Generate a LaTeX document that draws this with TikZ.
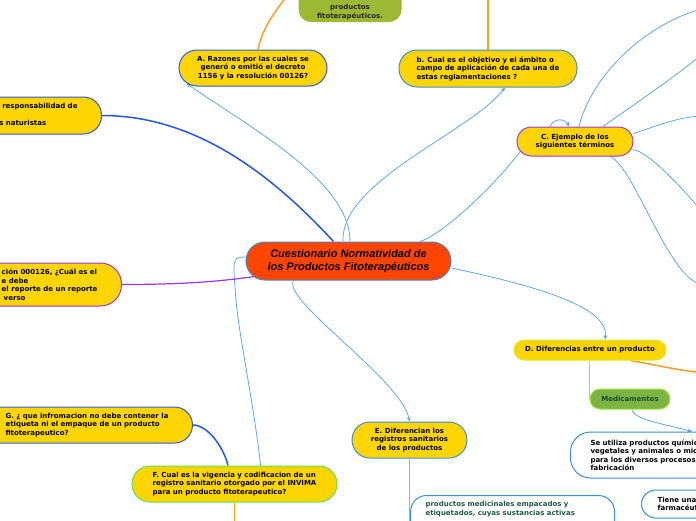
\documentclass[tikz,border=0pt]{standalone}
\usepackage{fontspec}
\usetikzlibrary{arrows.meta,backgrounds}

\newfontfamily\mapfont{DejaVu Sans}
\newfontfamily\rootfont{Liberation Sans}
\newcommand{\topicfont}{\mapfont\bfseries\fontsize{7}{8.5}\selectfont}
\newcommand{\rootsize}{\rootfont\bfseries\itshape\fontsize{11}{13}\selectfont}

\definecolor{topicyellow}{HTML}{FFD500}
\definecolor{rootred}{HTML}{FF4500}
\definecolor{rootline}{HTML}{4A86C5}
\definecolor{linkblue}{HTML}{5DA8EC}
\definecolor{deepblue}{HTML}{2457E0}
\definecolor{edgeblue}{HTML}{3C8FD8}
\definecolor{royalline}{HTML}{2D5BE3}
\definecolor{violetline}{HTML}{9B35E8}
\definecolor{limeline}{HTML}{D2EC3A}
\definecolor{greenline}{HTML}{5EE05A}
\definecolor{branchorange}{HTML}{FFA020}
\definecolor{medgreen}{HTML}{7CB342}
\definecolor{medline}{HTML}{9CE83A}
\definecolor{medtext}{HTML}{1E4D2B}
\definecolor{olivegreen}{HTML}{9DB832}
\definecolor{leafgreen}{HTML}{1F5C45}

\begin{document}
\begin{tikzpicture}[x=1pt, y=-1pt,
    topic/.style={draw, fill=topicyellow, line width=1pt, font=\topicfont, inner xsep=4pt, inner ysep=0pt},
    note/.style={draw=edgeblue, fill=white, line width=1pt, font=\topicfont, inner ysep=0pt},
    link/.style={draw=linkblue, line width=0.8pt},
    linkarrow/.style={link, -{Stealth[length=4.5pt,width=4pt]}},
    heavylink/.style={draw=deepblue, line width=1.5pt},
    branch/.style={draw=branchorange, line width=1.5pt}]
    \useasboundingbox (0,0) rectangle (696,520);
    \clip (0,0) rectangle (696,520);

    % ==========================================
    % Central topic
    % ==========================================
    \node[topic, fill=rootred, draw=rootline, font=\rootsize, align=center,
        minimum width=205pt, minimum height=38pt, rounded corners=19pt] (root) at (348.5,261)
        {Cuestionario Normatividad de\\los Productos Fitoterapéuticos};

    % ==========================================
    % Questions (yellow topics)
    % ==========================================
    \node[topic, draw=royalline, align=center, minimum width=148pt, minimum height=36pt,
        rounded corners=18pt] (A) at (253,68)
        {A. Razones por las cuales se\\generó o emitió el decreto\\1156 y la resolución 00126?};
    \node[topic, draw=edgeblue, align=left, minimum width=178pt, minimum height=37pt,
        rounded corners=18pt] (B) at (488,68.5)
        {b. Cual es el objetivo y el ámbito o\\campo de aplicación de cada una de\\estas reglamentaciones ?};
    \node[topic, draw=violetline, align=center, minimum width=116pt, minimum height=29pt,
        rounded corners=14.5pt] (C) at (575,141.5)
        {C. Ejemplo de los\\siguientes términos};
    \node[topic, draw=limeline, minimum width=152pt, minimum height=20pt,
        rounded corners=10pt] (D) at (590,350)
        {D. Diferencias entre un producto};
    \node[topic, draw=edgeblue, align=center, minimum width=115pt, minimum height=36pt,
        rounded corners=18pt] (E) at (409.5,440)
        {E. Diferencian los\\registros sanitarios\\de los productos};
    \node[topic, draw=greenline, align=left, minimum width=205pt, minimum height=36pt,
        rounded corners=18pt] (F) at (234.5,484)
        {F. Cual es la vigencia y codificacion de un\\registro sanitario otorgado por el INVIMA\\para un producto fitoterapeutico?};

    % cut at the left border
    \node[topic, draw=royalline, anchor=east, align=left, inner xsep=24pt, minimum height=36pt,
        rounded corners=18pt] (G) at (193,425)
        {\hspace*{40pt}G. ¿ que infromacion no debe contener la\\\hspace*{40pt}etiqueta ni el empaque de un producto\\\hspace*{40pt}fitoterapeutico?};
    \node[topic, draw=royalline, anchor=east, align=left, inner xsep=24pt, minimum height=37pt,
        rounded corners=18pt] (resp) at (102,115.5)
        {\hspace*{60pt}responsabilidad de\\\strut\\\hspace*{57pt}s naturistas\vphantom{p}};
    \node[topic, draw=violetline, anchor=east, align=left, inner xsep=24pt, minimum height=43pt,
        rounded corners=21pt] (report) at (122,284.5)
        {\hspace*{40pt}ción 000126, ¿Cuál es el\\\hspace*{40pt}e debe\\\hspace*{40pt}el reporte de un reporte\\\hspace*{42pt}verso};

    % ==========================================
    % Answers
    % ==========================================
    \node[topic, fill=olivegreen, draw=olivegreen, text=black!85, align=center, minimum width=102pt,
        minimum height=36pt, rounded corners=12pt] (phyto) at (350,3.5)
        {\vphantom{Ay}\\\vphantom{Ay}\\productos\\fitoterapéuticos.};
    \node[topic, fill=medgreen, draw=medline, text=medtext, minimum width=80pt, minimum height=20pt,
        rounded corners=10pt] (med) at (630,399) {Medicamentos};
    \node[note, anchor=west, align=left, inner xsep=20pt, minimum height=46pt,
        rounded corners=20pt] (uses) at (570,455)
        {Se utiliza productos químicos\\vegetales y animales o microorganismos\\para los diversos procesos\\fabricación};
    \node[note, anchor=west, align=left, inner xsep=16pt, minimum height=28pt,
        rounded corners=14pt] (acts) at (641,504)
        {Tiene una\\farmacéutica};
    \node[note, text=leafgreen, anchor=north west, align=left, inner xsep=15pt, inner ysep=6pt,
        text width=174pt, rounded corners=16pt] (packed) at (410,495)
        {productos medicinales empacados y\\etiquetados, cuyas sustancias activas\\\strut\\\strut};

    % free ends beyond the border
    \coordinate (aup) at (292,-10);
    \coordinate (bup) at (488,-10);
    \coordinate (c1) at (705,8);
    \coordinate (c2) at (705,52);
    \coordinate (c3) at (705,116);
    \coordinate (c4) at (705,215);
    \coordinate (c5) at (705,285);
    \coordinate (dright) at (705,373);
    \coordinate (fdown) at (234.5,530);
    \coordinate (fbend) at (236,300);

    % ==========================================
    % Connectors
    % ==========================================
    \begin{scope}[on background layer]
        \clip (0,0) rectangle (696,520);
        % heavy blue links
        \draw[heavylink] (resp.east) .. controls +(95,0) and +(-60,-65) .. ([xshift=-15pt]root.north);
        \draw[heavylink] (G.east) .. controls +(14,0) and +(-5,-20) .. ([xshift=-6.5pt]F.north);

        % thin links from the root
        \draw[linkarrow] ([xshift=1.5pt]root.north) .. controls +(0,-60) and +(65,45) .. ([xshift=8pt,yshift=3pt]A.south west);
        \draw[linkarrow] ([xshift=-5.5pt]root.north) .. controls +(-3,-60) and +(-35,45) .. ([xshift=17pt]B.south);
        \draw[link] ([xshift=71.5pt]root.north) .. controls +(25,-8) and +(-22,30) .. ([xshift=4pt,yshift=-9.5pt]C.west);
        \draw[linkarrow] ([yshift=-7pt]root.east) .. controls +(70,15) and +(5,-35) .. ([xshift=15pt]D.north);
        \draw[linkarrow] ([xshift=-55pt]root.south) .. controls +(-12,20) and +(-8,-42) .. (E.north);
        \draw[linkarrow] ([yshift=4pt]root.west) .. controls +(-14,0) and +(-3,-40) .. (fbend)
            .. controls +(3,40) and +(-1,-60) .. ([xshift=28.5pt]F.south);
        \draw[draw=violetline, line width=1.2pt] (report.east) .. controls +(60,0) and +(-35,5) .. ([xshift=9pt,yshift=4pt]root.south west);

        % C terms
        \draw[linkarrow] ([xshift=-25pt]C.north) .. controls +(4,-9) and +(-4,-8) .. ([xshift=-6pt]C.north);
        \draw[link] ([xshift=4pt]C.north) .. controls +(12,-50) and +(-60,15) .. (c1);
        \draw[link] ([xshift=28pt]C.north) .. controls +(25,-18) and +(-30,25) .. (c2);
        \draw[link] ([yshift=8pt]C.east) .. controls +(25,-8) and +(-25,0) .. (c3);
        \draw[link] ([yshift=-8pt]C.east) .. controls +(15,3) and +(-25,-30) .. (c4);
        \draw[link] ([xshift=35pt]C.south) .. controls +(25,10) and +(-35,0) .. (c5);

        % D branches
        \draw[draw=medline, line width=1.5pt] (D.south -| med.west) -- (med.west);
        \draw[linkarrow] ([xshift=2pt]med.south) .. controls +(2,10) and +(-30,-8) .. ([xshift=122pt]uses.north west);

        % orange branches
        \draw[branch] ([xshift=5pt]A.north) .. controls +(5,-25) and +(-12,15) .. (aup);
        \draw[branch] (B.north) -- (bup);
        \draw[branch] ([xshift=40pt]D.south) .. controls +(30,5) and +(-30,-3) .. (dright);
        \draw[branch] (E.south) -- (E.south |- packed.south);
        \draw[branch] (F.south) -- (fdown);
    \end{scope}
\end{tikzpicture}
\end{document}
